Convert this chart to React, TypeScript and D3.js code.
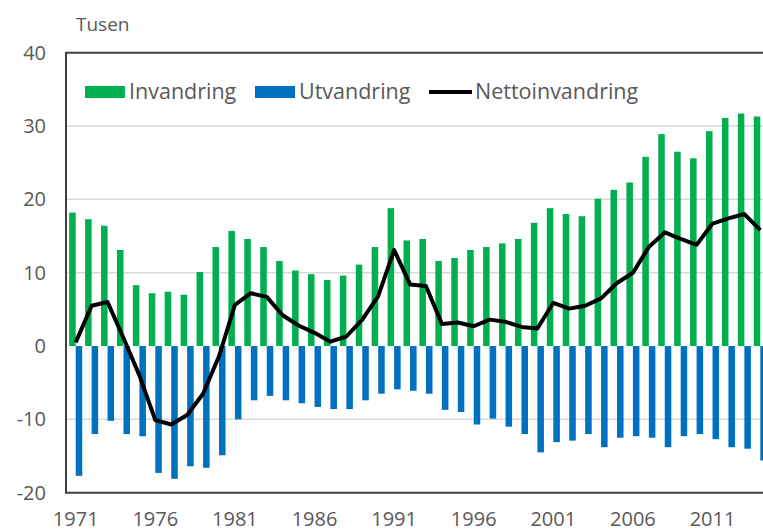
import React, { useEffect, useRef } from "react";
import * as d3 from "d3";

const years = d3.range(1971, 2015).map(String);

const invandring = [
  18.2, 17.3, 16.4, 13.1, 8.3, 7.2, 7.4, 7.0, 10.1, 13.5,
  15.7, 14.6, 13.5, 11.6, 10.3, 9.8, 9.0, 9.6, 11.1, 13.5,
  18.8, 14.4, 14.6, 11.6, 12.0, 13.1, 13.5, 14.0, 14.6, 16.8,
  18.8, 18.0, 17.7, 20.1, 21.3, 22.3, 25.8, 28.9, 26.5, 25.6,
  29.3, 31.1, 31.7, 31.3,
];

const utvandring = [
  -17.7, -12.0, -10.2, -12.0, -12.3, -17.3, -18.1, -16.4, -16.6, -14.9,
  -10.0, -7.4, -6.8, -7.4, -7.8, -8.3, -8.6, -8.6, -7.4, -6.5,
  -5.9, -6.1, -6.5, -8.7, -9.0, -10.7, -9.9, -11.0, -12.0, -14.5,
  -13.1, -12.9, -12.0, -13.8, -12.5, -12.3, -12.5, -13.8, -12.3, -12.0,
  -12.7, -13.8, -14.0, -15.6,
];

const netto = [
  0.5, 5.5, 6.0, 1.1, -4.0, -10.1, -10.7, -9.4, -6.5, -1.4,
  5.6, 7.2, 6.7, 4.2, 2.8, 1.8, 0.6, 1.3, 3.6, 6.8,
  13.1, 8.4, 8.2, 3.0, 3.2, 2.7, 3.6, 3.3, 2.6, 2.4,
  5.9, 5.1, 5.5, 6.5, 8.6, 10.0, 13.5, 15.5, 14.6, 13.8,
  16.7, 17.4, 18.0, 15.8,
];

const yTicks = [-20, -10, 0, 10, 20, 30, 40];
const xTickLabels = ["1971", "1976", "1981", "1986", "1991", "1996", "2001", "2006", "2011"];

const seriesNames = ["Invandring", "Utvandring", "Nettoinvandring"];

export default function App() {
  const ref = useRef<SVGSVGElement>(null);

  useEffect(() => {
    const width = 763;
    const left = 66;
    const right = 770; // plot runs past the window edge, like the original
    const font = "'Open Sans', 'Noto Sans', sans-serif";
    const textColor = "#595959";
    const green = "#00b050";
    const blue = "#0070c0";

    const svg = d3.select(ref.current);
    svg.selectAll("*").remove();

    const x = d3
      .scaleBand<string>()
      .domain(years)
      .range([left, right])
      .paddingInner(0.18)
      .paddingOuter(0.2);

    const y = d3.scaleLinear().domain([-20, 40]).range([492.7, 52.7]);

    // grid lines
    svg
      .append("g")
      .selectAll("line")
      .data(yTicks.filter((t) => t !== -20 && t !== 40 && t !== 0))
      .join("line")
      .attr("x1", left)
      .attr("x2", width)
      .attr("y1", (d) => y(d))
      .attr("y2", (d) => y(d))
      .attr("stroke", "#d9d9d9")
      .attr("stroke-width", 1.5);

    // y labels
    svg
      .append("g")
      .selectAll("text")
      .data(yTicks)
      .join("text")
      .attr("x", 46)
      .attr("y", (d) => y(d))
      .attr("dy", "0.35em")
      .attr("text-anchor", "end")
      .attr("font-family", font)
      .attr("font-size", 20)
      .attr("fill", textColor)
      .text((d) => String(d));

    svg
      .append("text")
      .attr("x", 76)
      .attr("y", 31)
      .attr("font-family", font)
      .attr("font-size", 19)
      .attr("fill", textColor)
      .text("Tusen");

    const half = x.bandwidth() / 2;

    // Invandring bars
    svg
      .append("g")
      .selectAll("rect")
      .data(invandring)
      .join("rect")
      .attr("x", (d, i) => x(years[i])!)
      .attr("width", half)
      .attr("y", (d) => y(d))
      .attr("height", (d) => y(0) - y(d))
      .attr("fill", green);

    // Utvandring bars
    svg
      .append("g")
      .selectAll("rect")
      .data(utvandring)
      .join("rect")
      .attr("x", (d, i) => x(years[i])! + half)
      .attr("width", half)
      .attr("y", y(0))
      .attr("height", (d) => y(d) - y(0))
      .attr("fill", blue);

    // Netto line
    const line = d3
      .line<number>()
      .x((d, i) => x(years[i])! + half)
      .y((d) => y(d));

    svg
      .append("path")
      .attr("fill", "none")
      .attr("stroke", "#000")
      .attr("stroke-width", 4)
      .attr("stroke-linejoin", "round")
      .attr("d", line(netto));

    // frame
    svg
      .append("path")
      .attr("fill", "none")
      .attr("stroke", "#404040")
      .attr("stroke-width", 2)
      .attr("d", `M${width},${y(40)}H${left}V${y(-20)}H${width}`);

    // x labels
    svg
      .append("g")
      .selectAll("text")
      .data(xTickLabels)
      .join("text")
      .attr("x", (d) => x(d)! + half)
      .attr("y", 526)
      .attr("text-anchor", "middle")
      .attr("font-family", font)
      .attr("font-size", 20)
      .attr("fill", textColor)
      .text((d) => d);

    // legend
    const legend = svg.append("g").attr("font-family", font).attr("font-size", 21.5).attr("fill", textColor);
    legend.append("rect").attr("x", 85).attr("y", 86).attr("width", 40).attr("height", 12).attr("fill", green);
    legend.append("text").attr("x", 129).attr("y", 99).text(seriesNames[0]);
    legend.append("rect").attr("x", 255).attr("y", 86).attr("width", 40).attr("height", 12).attr("fill", blue);
    legend.append("text").attr("x", 299).attr("y", 99).text(seriesNames[1]);
    legend
      .append("line")
      .attr("x1", 429)
      .attr("x2", 472)
      .attr("y1", 92)
      .attr("y2", 92)
      .attr("stroke", "#000")
      .attr("stroke-width", 4);
    legend.append("text").attr("x", 475).attr("y", 99).text(seriesNames[2]);
  }, []);

  return (
    <svg
      ref={ref}
      width={763}
      height={529}
      style={{ position: "absolute", left: 0, top: 0, background: "#fff" }}
    />
  );
}
